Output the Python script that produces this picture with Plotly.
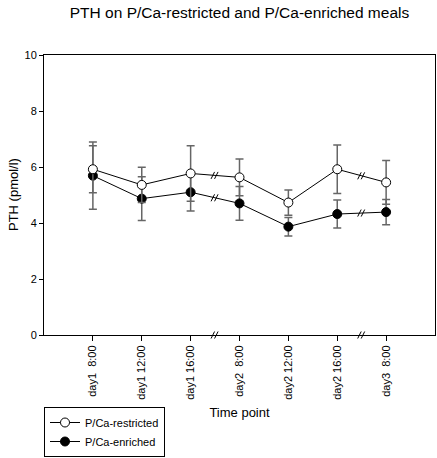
import plotly.graph_objects as go

categories = ["day1  8:00", "day1 12:00", "day1 16:00", "day2  8:00",
              "day2 12:00", "day2 16:00", "day3  8:00"]
restricted = [5.92, 5.36, 5.77, 5.63, 4.73, 5.92, 5.45]
restricted_err = [0.84, 0.63, 0.99, 0.66, 0.45, 0.87, 0.78]
enriched = [5.69, 4.87, 5.10, 4.70, 3.87, 4.32, 4.39]
enriched_err = [1.20, 0.78, 0.67, 0.60, 0.33, 0.50, 0.45]
break_after = [2, 5]  # axis breaks between these index and the next
y_ticks = [0, 2, 4, 6, 8, 10]

xs = list(range(len(categories)))
FONT = "Liberation Sans, Arial, sans-serif"
XR = [-1, 7]
W, H = 437, 458
ML, MR, MT, MB = 44, 2, 55, 123
PW = W - ML - MR

fig = go.Figure()
fig.add_trace(go.Scatter(
    x=xs, y=enriched, name="P/Ca-enriched", mode="lines+markers",
    line=dict(color="black", width=1),
    marker=dict(symbol="circle", size=9, color="black", line=dict(color="black", width=1)),
    error_y=dict(type="data", array=enriched_err, color="#666666", thickness=1.5, width=4),
))
fig.add_trace(go.Scatter(
    x=xs, y=restricted, name="P/Ca-restricted", mode="lines+markers",
    line=dict(color="black", width=1),
    marker=dict(symbol="circle", size=9, color="white", line=dict(color="black", width=1)),
    error_y=dict(type="data", array=restricted_err, color="#666666", thickness=1.5, width=4),
))

shapes = []
def break_mark(xref, yref, xa, ya):
    for off in (-2.5, 1):
        shapes.append(dict(type="line", xref=xref, yref=yref,
                           xsizemode="pixel", ysizemode="pixel",
                           xanchor=xa, yanchor=ya,
                           x0=off - 1.5, x1=off + 2, y0=-3.5, y1=3.5,
                           line=dict(color="black", width=1), layer="above"))

for b in break_after:
    xm = (xs[b] + xs[b + 1]) / 2
    for series in (restricted, enriched):
        ym = (series[b] + series[b + 1]) / 2
        break_mark("x", "y", xm, ym)
    break_mark("paper", "paper", (xm - XR[0]) / (XR[1] - XR[0]), 0)

fig.update_layout(
    width=W, height=H,
    margin=dict(l=ML, r=MR, t=MT, b=MB, autoexpand=False),
    paper_bgcolor="white", plot_bgcolor="white",
    font=dict(family=FONT, color="black", size=11),
    title=dict(text="PTH on P/Ca-restricted and P/Ca-enriched meals",
               font=dict(size=15.5, family=FONT), xref="paper", x=0.5, xanchor="center",
               y=1 - 13 / H, yanchor="middle"),
    showlegend=True,
    legend=dict(xref="container", yref="container",
                x=ML / W, y=1 - 407 / H, xanchor="left", yanchor="top",
                bordercolor="black", borderwidth=1, bgcolor="white",
                font=dict(size=11, family=FONT), traceorder="reversed",
                itemwidth=30, tracegroupgap=0),
    shapes=shapes,
    annotations=[dict(text="PTH (pmol/l)", textangle=-90, showarrow=False,
                      xref="paper", yref="paper", x=(13 - ML) / PW, y=0.5,
                      xanchor="center", yanchor="middle",
                      font=dict(size=13, family=FONT, color="black"))],
)
fig.update_xaxes(
    range=XR, tickmode="array", tickvals=xs, ticktext=categories,
    tickangle=-90, ticks="outside", ticklen=5, tickcolor="black",
    showline=True, linecolor="black", linewidth=1, mirror=True,
    showgrid=False, zeroline=False, tickfont=dict(size=11),
    title=dict(text="Time point", font=dict(size=13), standoff=9),
)
fig.update_yaxes(
    range=[0, 10], tickmode="array", tickvals=y_ticks,
    ticks="outside", ticklen=4, tickcolor="black",
    showline=True, linecolor="black", linewidth=1, mirror=True,
    showgrid=False, zeroline=False, tickfont=dict(size=11),
)

fig.write_html("out.html", config={"displayModeBar": False},
               post_script="document.body.style.margin='0';")
